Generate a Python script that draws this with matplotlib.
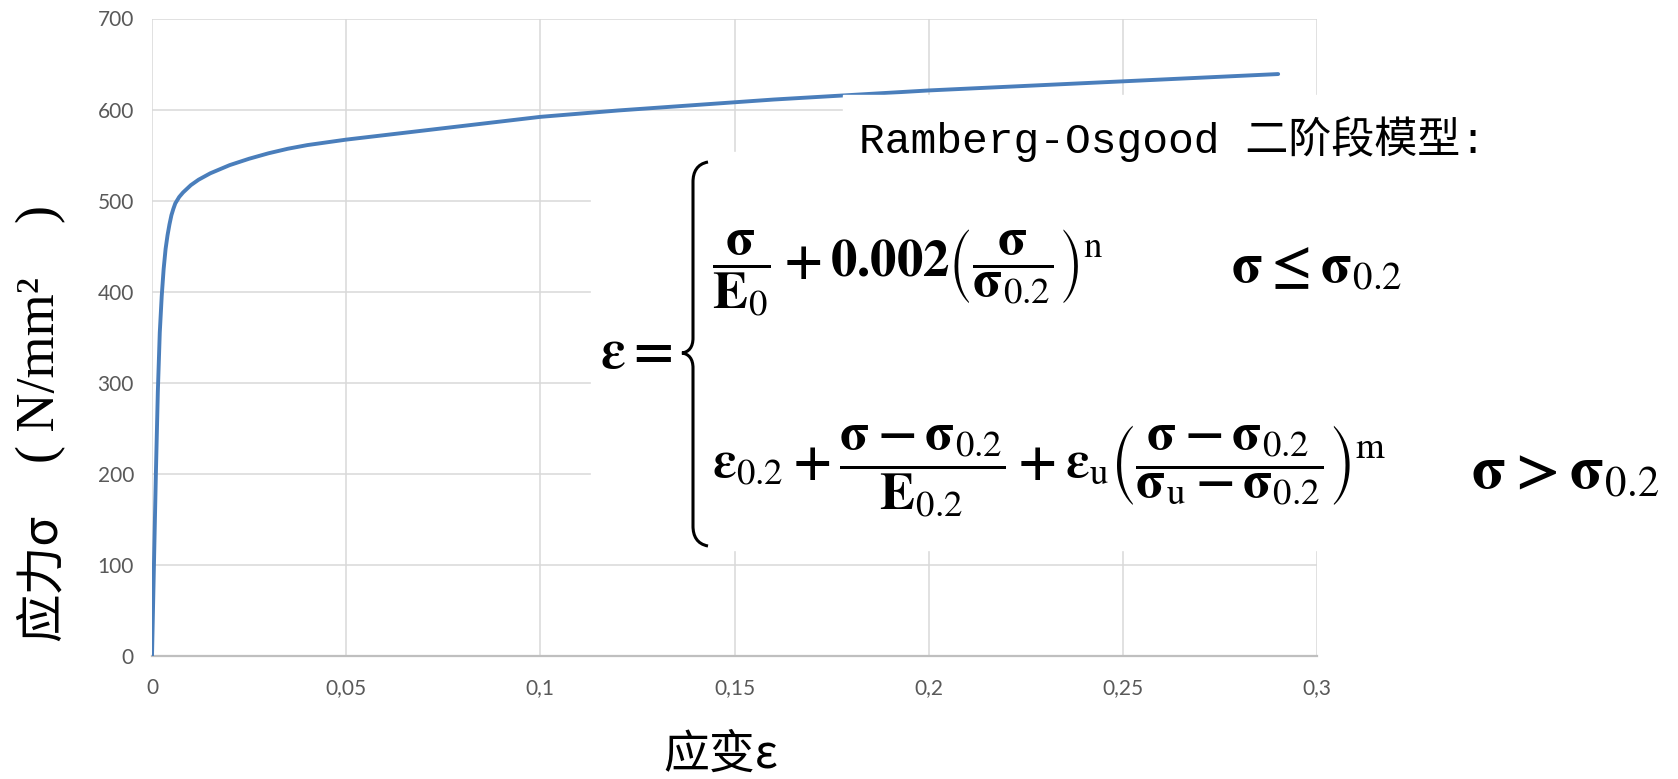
import numpy as np
import matplotlib
matplotlib.use('Agg')
import matplotlib.pyplot as plt
from matplotlib.patches import Rectangle, PathPatch
from matplotlib.path import Path

# stress-strain curve
strain = [0, 0.0005, 0.001, 0.0015, 0.002, 0.0025, 0.003, 0.0035, 0.004, 0.0045,
          0.005, 0.0055, 0.006, 0.007, 0.008, 0.01, 0.012, 0.015, 0.02, 0.025,
          0.03, 0.035, 0.04, 0.05, 0.06, 0.07, 0.08, 0.09, 0.1, 0.12, 0.14,
          0.16, 0.18, 0.2, 0.22, 0.24, 0.26, 0.28, 0.29]
stress = [0, 100, 200, 290, 355, 395, 425, 447, 462, 474,
          484, 491, 497, 504, 509, 517, 523, 530, 539, 546,
          552, 557, 561, 567, 572, 577, 582, 587, 592, 599, 605,
          611, 616, 621, 625, 629, 633, 637, 639]

xticks = [0, 0.05, 0.1, 0.15, 0.2, 0.25, 0.3]
xticklabels = ['0', '0,05', '0,1', '0,15', '0,2', '0,25', '0,3']
yticks = [0, 100, 200, 300, 400, 500, 600, 700]

W, H = 1678, 779

def fx(px):
    return px / W

def fy(py):
    return 1 - py / H

plt.rcParams['mathtext.fontset'] = 'stix'
plt.rcParams['mathtext.default'] = 'bf'

fig = plt.figure(figsize=(W / 100, H / 100), dpi=100)
ax = fig.add_axes([fx(152), fy(656), fx(1317) - fx(152), fy(18.5) - fy(656)])

ax.plot(strain, stress, color='#4a7ebb', lw=2.8, solid_capstyle='round',
        solid_joinstyle='round', zorder=3)

ax.set_xlim(0, 0.3)
ax.set_ylim(0, 700)
ax.set_xticks(xticks)
ax.set_xticklabels(xticklabels)
ax.set_yticks(yticks)
ax.grid(True, color='#d9d9d9', lw=1.1)
ax.set_axisbelow(True)
for s in ['top', 'right', 'left']:
    ax.spines[s].set_visible(False)
ax.spines['bottom'].set_color('#bfbfbf')
ax.spines['bottom'].set_linewidth(1.6)
ax.tick_params(length=0, labelsize=15, labelcolor='#595959')
ax.tick_params(axis='x', pad=16)
ax.tick_params(axis='y', pad=13)
for lab in ax.get_xticklabels() + ax.get_yticklabels():
    lab.set_family('Lato')

# axis titles
fig.text(fx(663), fy(755), '应变ε', family=['Noto Sans CJK SC'], fontsize=33,
         ha='left', va='center')
fig.text(fx(56), fy(578), '应力σ', family=['Noto Sans CJK SC'],
         fontsize=35, rotation=90, rotation_mode='anchor', ha='center', va='baseline')
fig.text(fx(54), fy(334), '( N/mm²    )', family=['Liberation Serif'],
         fontsize=39, rotation=90, rotation_mode='anchor', ha='center', va='baseline')

# white picture with the formula pasted over the chart
fig.add_artist(Rectangle((fx(843), fy(152)), 1 - fx(843), fy(95) - fy(152),
                         transform=fig.transFigure, color='white', zorder=5))
fig.add_artist(Rectangle((fx(591), fy(550)), 1 - fx(591), fy(152) - fy(550),
                         transform=fig.transFigure, color='white', zorder=5))

fig.text(fx(859), fy(139), 'Ramberg-Osgood 二阶段模型:',
         family=['Liberation Mono', 'Noto Sans CJK SC'], fontsize=31,
         ha='left', va='center', zorder=6)

fig.text(fx(600), fy(353), r'$\varepsilon=$', fontsize=40, ha='left', va='center', zorder=6)

# brace
verts = [(708, 162), (697, 164), (693, 172), (693, 182),
         (693, 338),
         (693, 347), (689, 352), (682, 353),
         (689, 354), (693, 359), (693, 368),
         (693, 526),
         (693, 536), (697, 544), (708, 546)]
codes = [Path.MOVETO, Path.CURVE4, Path.CURVE4, Path.CURVE4,
         Path.LINETO,
         Path.CURVE4, Path.CURVE4, Path.CURVE4,
         Path.CURVE4, Path.CURVE4, Path.CURVE4,
         Path.LINETO,
         Path.CURVE4, Path.CURVE4, Path.CURVE4]
brace = Path([(fx(a), fy(b)) for a, b in verts], codes)
fig.add_artist(PathPatch(brace, transform=fig.transFigure, fill=False,
                         lw=2.2, color='black', zorder=6))

fs = 38
fig.text(fx(712), fy(273),
         r'$\dfrac{\sigma}{E_{\mathrm{0}}}+0.002\left(\dfrac{\sigma}{\sigma_{\mathrm{0.2}}}\right)^{\mathrm{n}}$',
         fontsize=fs, ha='left', va='center', zorder=6)
fig.text(fx(1231), fy(268), r'$\sigma\leq\sigma_{\mathrm{0.2}}$',
         fontsize=40, ha='left', va='center', zorder=6)
fig.text(fx(712), fy(471),
         r'$\varepsilon_{\mathrm{0.2}}+\dfrac{\sigma-\sigma_{\mathrm{0.2}}}{E_{\mathrm{0.2}}}+\varepsilon_{\mathrm{u}}'
         r'\left(\dfrac{\sigma-\sigma_{\mathrm{0.2}}}{\sigma_{\mathrm{u}}-\sigma_{\mathrm{0.2}}}\right)^{\mathrm{m}}$',
         fontsize=fs, ha='left', va='center', zorder=6)
fig.text(fx(1471), fy(472), r'$\sigma>\sigma_{\mathrm{0.2}}$',
         fontsize=44, ha='left', va='center', zorder=6)

fig.savefig('out.png', dpi=100)
